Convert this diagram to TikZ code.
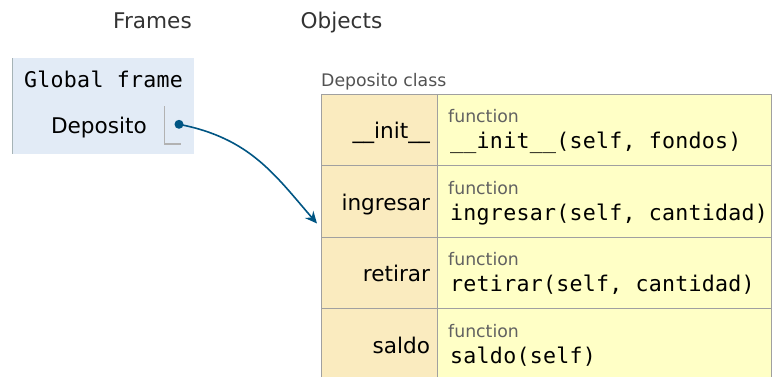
\documentclass[tikz,border=0pt]{standalone}
\usepackage{fontspec}
\setmainfont{DejaVu Sans}
\setmonofont{DejaVu Sans Mono}[LetterSpace=1.2]
\usetikzlibrary{positioning,arrows.meta}
\definecolor{framebg}{HTML}{E2EBF6}
\definecolor{frameline}{HTML}{A6B3B6}
\definecolor{keybg}{HTML}{FAEBBF}
\definecolor{valbg}{HTML}{FFFFC6}
\definecolor{ptrblue}{HTML}{005583}
\definecolor{cellline}{HTML}{A0A0A0}
\tikzset{
  heading/.style={text=black!80, font=\fontsize{21.6}{21.6}\selectfont, inner sep=0, anchor=base west},
  keycell/.style={draw=cellline, fill=keybg, minimum height=71.5, text width=102, text height=22, text depth=4, inner xsep=7, align=right, font=\fontsize{21.6}{21.6}\selectfont},
  valcell/.style={draw=cellline, fill=valbg, minimum height=71.5, minimum width=334},
  small/.style={text=black!62, font=\fontsize{17.3}{17.3}\selectfont, inner sep=0, anchor=base west},
  code/.style={font=\ttfamily\fontsize{21.6}{21.6}\selectfont, inner sep=0, anchor=base west},
}

\begin{document}
\begin{tikzpicture}[x=1pt, y=-1pt]
	\clip (0,0) rectangle (772,376);
	% headings
	\node[heading] (frames) at (113,28) {Frames};
	\node[heading] (objects) at (300.5,28) {Objects};

	% global frame
	\node[fill=framebg, minimum width=181.7, minimum height=96, anchor=north west, inner sep=0] (gframe) at (12,58) {};
	\draw[frameline] (gframe.north west) -- (gframe.south west);
	\node[code] (gtitle) at (24,87.7) {Global frame};
	\node[anchor=base east, inner sep=0, font=\fontsize{21.6}{21.6}\selectfont] (var) at (147,133.3) {Deposito};
	\coordinate (slot) at (164.7,106);
	\draw[black!30, line width=1.2] (slot) |- ++(16,38);
	\node[circle, fill=ptrblue, inner sep=0, minimum size=9] (dot) at (179,124.3) {};

	% class object
	\node[small, text=black!68] (clsname) at (321,86) {Deposito class};
	\node[keycell] (k1) at (379,129.75) {\_\_init\_\_};
	\node[keycell] (k2) at (379,201.25) {ingresar};
	\node[keycell] (k3) at (379,272.75) {retirar};
	\node[keycell] (k4) at (379,344.25) {saldo};
	\node[valcell] (v1) at (604,129.75) {};
	\node[valcell] (v2) at (604,201.25) {};
	\node[valcell] (v3) at (604,272.75) {};
	\node[valcell] (v4) at (604,344.25) {};

	\node[small] (f1) at (448,122.5) {function};
	\node[code] (c1) at (450,148.5) {\_\_init\_\_(self, fondos)};
	\node[small] (f2) at (448,194) {function};
	\node[code] (c2) at (450,220) {ingresar(self, cantidad)};
	\node[small] (f3) at (448,265.5) {function};
	\node[code] (c3) at (450,291.5) {retirar(self, cantidad)};
	\node[small] (f4) at (448,337) {function};
	\node[code] (c4) at (450,363) {saldo(self)};

	% pointer
	\coordinate (tip) at (317,223.5);
	\draw[ptrblue, line width=1.6, -{Stealth[length=12, width=11, inset=4]}] (dot.center) .. controls (250,138) and (275,175) .. (tip);
\end{tikzpicture}
\end{document}
